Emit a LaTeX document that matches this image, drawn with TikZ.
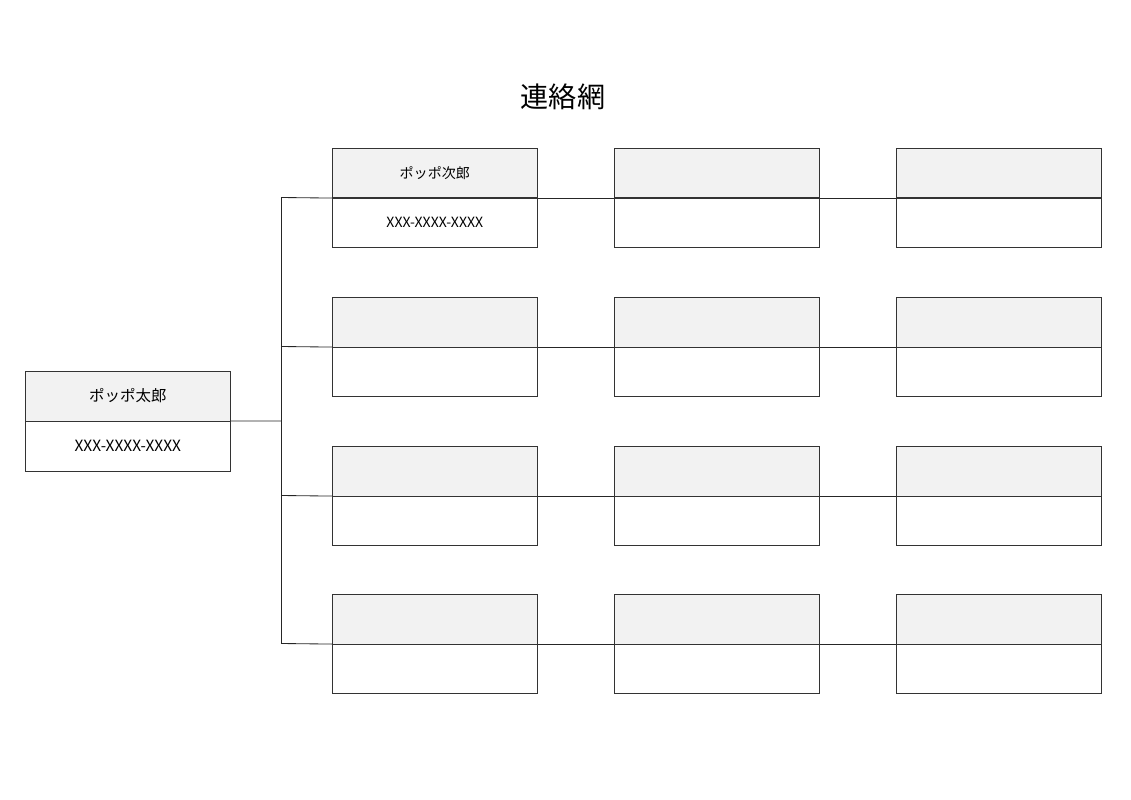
\documentclass[tikz,border=0pt]{standalone}
\usepackage{fontspec}
\setmainfont{Noto Sans CJK JP}
\begin{document}
\begin{tikzpicture}[x=0.025cm,y=-0.025cm,
	headbox/.style={draw=black!80,fill=black!5,minimum width=5.125cm,minimum height=1.2375cm,inner sep=0pt,anchor=north west,font=\fontsize{11}{13}\selectfont},
	bodybox/.style={draw=black!80,minimum width=5.125cm,minimum height=1.2375cm,inner sep=0pt,anchor=north west,font=\fontsize{11}{13}\selectfont},
	wire/.style={draw=black!85,line width=0.6pt}]
	\useasboundingbox (0,0) rectangle (1131,800);
	%Title
	\node (title) at (563,97) {\fontsize{20}{24}\selectfont 連絡網};
	%Root person
	\node [headbox] (rootH) at (25,371) {ポッポ太郎};
	\node [bodybox] (rootB) at (25,421) {XXX-XXXX-XXXX};
	%Grid of members
	\foreach \r/\y in {1/148,2/297,3/446,4/594} {
		\foreach \c/\x in {1/332,2/614,3/896} {
			\node [headbox] (h\r\c) at (\x,\y) {};
			\node [bodybox] (b\r\c) at (\x,\y+49.5) {};
		}
		\coordinate (t\r) at (281,\y+49.5);
	}
	\node at (h11) {ポッポ次郎};
	\node at (b11) {XXX-XXXX-XXXX};
	%Trunk
	\coordinate (tRoot) at (281,421);
	\draw [wire] (rootH.south east) -- (tRoot);
	\draw [wire] (t1) -- (t4);
	\foreach \r in {1,...,4} {
		\draw [wire] (t\r) -- (h\r1.south west);
		\draw [wire] (h\r1.south east) -- (h\r2.south west);
		\draw [wire] (h\r2.south east) -- (h\r3.south west);
	}
\end{tikzpicture}
\end{document}
